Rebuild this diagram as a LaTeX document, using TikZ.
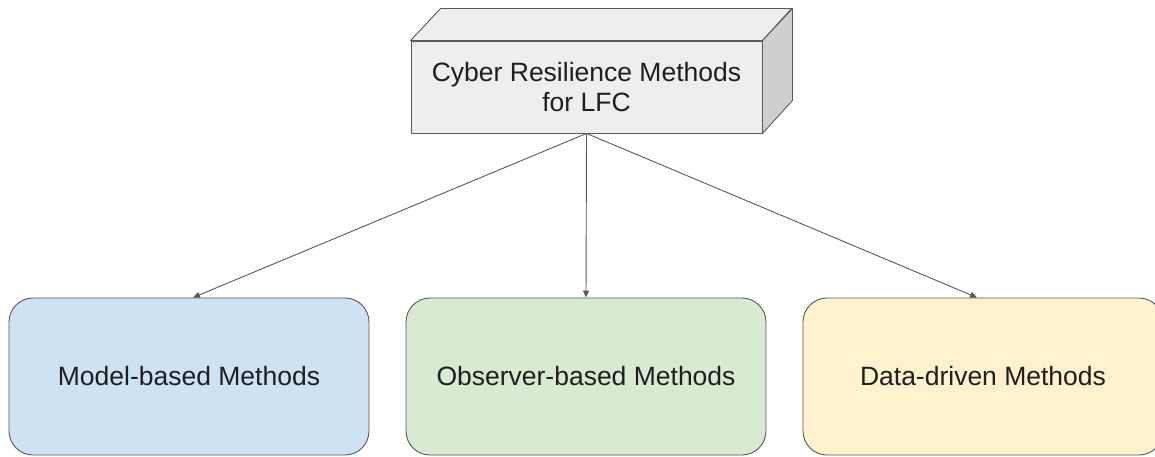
\documentclass[tikz,border=0pt]{standalone}
\usepackage{fontspec}
\setmainfont{Liberation Sans}
\usetikzlibrary{arrows.meta}
\definecolor{edgegray}{HTML}{595959}
\definecolor{cubefront}{HTML}{EEEEEE}
\definecolor{cubeside}{HTML}{CFCFCF}
\definecolor{blueish}{HTML}{CFE2F3}
\definecolor{greenish}{HTML}{D9EAD3}
\definecolor{yellowish}{HTML}{FFF2CC}
\tikzset{
  methodbox/.style={draw=edgegray, line width=0.9pt, rounded corners=24pt,
    minimum width=360pt, minimum height=157pt, inner sep=0pt,
    font=\fontsize{26.5}{30}\selectfont, text=black!88},
  cubeface/.style={draw=edgegray, line width=0.9pt, line join=round},
  link/.style={draw=edgegray, line width=0.9pt,
    -{Triangle[length=7pt,width=6pt]}},
}
\begin{document}
\begin{tikzpicture}[x=1pt,y=-1pt]
  \useasboundingbox (0,0) rectangle (1155,457);
  % root block drawn as a box with depth
  \node[cubeface, fill=cubefront, minimum width=351pt, minimum height=92pt,
        inner sep=0pt, align=center, font=\fontsize{26.5}{30}\selectfont,
        text=black!88] (root) at (586.5,87) {Cyber Resilience Methods\\for LFC};
  \draw[cubeface, fill=cubefront] (root.north west) -- ++(30,-32) -- ++(351,0)
        -- (root.north east) -- cycle;
  \draw[cubeface, fill=cubeside] (root.north east) -- ++(30,-32) -- ++(0,92)
        -- (root.south east) -- cycle;
  % three method families
  \node[methodbox, fill=blueish]   (model)    at (189,376.5) {Model-based Methods};
  \node[methodbox, fill=greenish]  (observer) at (586,376.5) {Observer-based Methods};
  \node[methodbox, fill=yellowish] (data)     at (983,376.5) {Data-driven Methods};
  % connectors
  \draw[link] (root.south) -- ([xshift=4pt]model.north);
  \draw[link] (root.south) -- (observer.north);
  \draw[link] (root.south) -- ([xshift=-6pt]data.north);
\end{tikzpicture}
\end{document}
